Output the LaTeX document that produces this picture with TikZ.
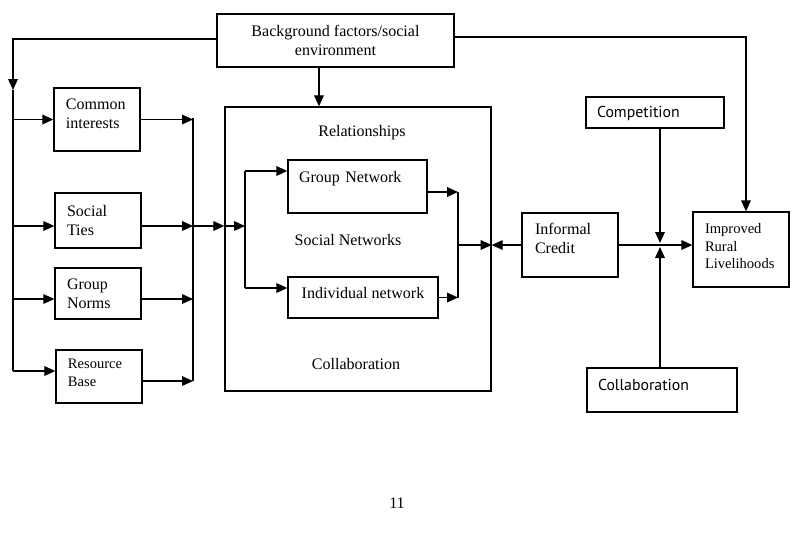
\documentclass[tikz,border=0pt]{standalone}
\usepackage{fontspec}
\setmainfont{Liberation Serif}
\newfontfamily\gillfont{PT Sans}
\usetikzlibrary{arrows.meta,positioning}
\begin{document}
\begin{tikzpicture}[x=0.03cm,y=-0.03cm,
  arr/.style={-{Triangle[length=3.3mm,width=2.9mm]},line width=1.1pt},
  con/.style={line width=1.1pt},
  box/.style={rectangle,draw,line width=1.1pt,inner ysep=2pt,
    font=\fontsize{13.7}{16.2}\selectfont},
  lbox/.style={box,align=left,inner xsep=0.36cm},
  txt/.style={font=\fontsize{13.7}{16.2}\selectfont,inner sep=0pt}]
  \useasboundingbox (0,0) rectangle (793,548);
  % boxes
  \node[box,minimum width=7.11cm,minimum height=1.59cm,align=center] (bg) at (335.5,40.5)
    {Background factors/social\\environment};
  \node[lbox,text width=1.86cm,minimum height=1.89cm,text depth=25.8pt] (common) at (97,119.5)
    {Common\\interests};
  \node[lbox,text width=1.86cm,minimum height=1.65cm] (ties) at (98,220.5) {Social\\Ties};
  \node[lbox,text width=1.86cm,minimum height=1.53cm] (norms) at (98,293.5) {Group\\Norms};
  \node[lbox,text width=1.86cm,minimum height=1.59cm,text depth=21.4pt,
    font=\fontsize{12.4}{15.4}\selectfont] (resource) at (99,376.5) {Resource\\Base};
  \node[box,minimum width=7.98cm,minimum height=8.52cm] (rel) at (358,249) {};
  \node[txt] (relt) at (362,133) {Relationships};
  \node[txt] (snt)  at (348,240) {Social Networks};
  \node[txt] (colt) at (356,364) {Collaboration};
  \node[lbox,inner xsep=0.33cm,text width=3.51cm,minimum height=1.59cm,text depth=16pt]
    (groupnet) at (357.5,186.5) {Group Network};
  \node[box,minimum width=4.5cm,minimum height=1.23cm,text depth=7.7pt]
    (indiv) at (363,297.5) {Individual network};
  \node[lbox,inner xsep=0.39cm,text width=2.1cm,minimum height=1.92cm,text depth=27.2pt]
    (credit) at (570,245) {Informal\\Credit};
  \node[lbox,text width=2.16cm,minimum height=2.25cm,text depth=36pt,
    font=\fontsize{12.4}{15}\selectfont] (improved) at (741,249.5) {Improved\\Rural\\Livelihoods};
  \node[lbox,inner xsep=0.33cm,text width=3.48cm,minimum height=0.93cm,text depth=1.5pt,
    font=\gillfont\fontsize{13.5}{16}\selectfont] (compet) at (655,112.5) {Competition};
  \node[lbox,inner xsep=0.33cm,text width=3.84cm,minimum height=1.32cm,text depth=8.6pt,
    font=\gillfont\fontsize{13.5}{16}\selectfont] (collab) at (662,390) {Collaboration};
  \node[txt] (pagenum) at (397,503) {11};
  % bus points
  \coordinate (ltop) at (13,90);
  \coordinate (lbot) at (13,371);
  \coordinate (rtop) at (193,118);
  \coordinate (rbot) at (193,381);
  \coordinate (fork) at (245,226);
  \coordinate (join) at (458,245);
  \coordinate (meet) at (660,245);
  \coordinate (bgw) at ([yshift=0.045cm]bg.west);
  \coordinate (bge) at ([yshift=0.105cm]bg.east);
  \coordinate (tiesw) at ([yshift=-0.165cm]ties.west);
  \coordinate (tiese) at ([yshift=-0.165cm]ties.east);
  \coordinate (normsw) at ([yshift=-0.165cm]norms.west);
  \coordinate (normse) at ([yshift=-0.165cm]norms.east);
  \coordinate (resw) at ([yshift=0.165cm]resource.west);
  \coordinate (rese) at ([yshift=-0.135cm]resource.east);
  \coordinate (gnw) at ([yshift=0.465cm]groupnet.west);
  \coordinate (gne) at ([yshift=-0.165cm]groupnet.east);
  \coordinate (indw) at ([yshift=0.285cm]indiv.west);
  % left side
  \draw[arr] (bgw) -| (ltop);
  \draw[con] (ltop) -- (lbot);
  \draw[arr] (ltop |- common.west) -- (common.west);
  \draw[arr] (ltop |- tiesw) -- (tiesw);
  \draw[arr] (ltop |- normsw) -- (normsw);
  \draw[arr] (ltop |- resw) -- (resw);
  \draw[con] (rtop) -- (rbot);
  \draw[arr] (common.east) -- (common.east -| rtop);
  \draw[arr] (tiese) -- (tiese -| rtop);
  \draw[arr] (normse) -- (normse -| rtop);
  \draw[arr] (rese) -- (rese -| rtop);
  \draw[arr] (tiese -| rtop) -- (tiese -| rel.west);
  \draw[arr] (tiese -| rel.west) -- (fork);
  % networks
  \draw[con] (fork |- gnw) -- (fork |- indw);
  \draw[arr] (fork |- gnw) -- (gnw);
  \draw[arr] (fork |- indw) -- (indw);
  \draw[arr] (gne) -- (gne -| join);
  \draw[arr] (indiv.east) -- (indiv.east -| join);
  \draw[con] (gne -| join) -- (indiv.east -| join);
  \draw[arr] (join) -- (join -| rel.east);
  \draw[arr] (credit.west) -- (credit.west -| rel.east);
  % right side
  \draw[arr] (credit.east) -- (credit.east -| improved.west);
  \draw[arr] (compet.south -| meet) -- ([yshift=0.06cm]meet);
  \draw[arr] (collab.north -| meet) -- ([yshift=-0.06cm]meet);
  \draw[arr] (bg.south -| 319,0) -- (rel.north -| 319,0);
  \draw[arr] (bge) -| (improved.north -| 746,0);
\end{tikzpicture}
\end{document}
